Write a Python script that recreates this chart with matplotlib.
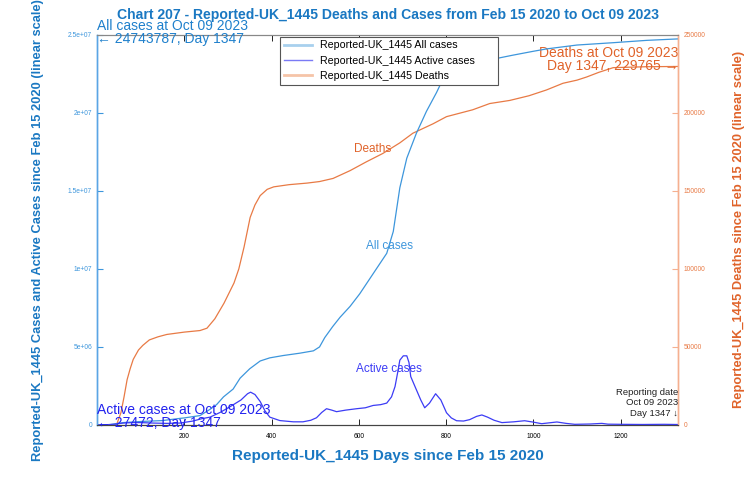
import numpy as np
import matplotlib
matplotlib.use("Agg")
import matplotlib.pyplot as plt
from matplotlib.lines import Line2D

plt.rcParams['font.family'] = ['Liberation Sans', 'DejaVu Sans']

# values
case_days = [0, 30, 60, 100, 150, 190, 200, 236, 259, 274, 290, 312, 328, 350, 374, 396,
             427, 465, 496, 510, 522, 540, 557, 580, 602, 633, 664, 679, 694, 710, 732,
             755, 778, 790, 830, 860, 900, 953, 1000, 1030, 1100, 1183, 1260, 1332]
cases = [0, 0.02, 0.15, 0.22, 0.28, 0.42, 0.45, 0.6, 1.0, 1.3, 1.8, 2.3, 3.0, 3.6, 4.1, 4.3,
         4.45, 4.6, 4.75, 5.0, 5.6, 6.3, 6.9, 7.6, 8.4, 9.7, 11.0, 12.4, 15.2, 17.1, 18.7,
         20.1, 21.3, 22.0, 22.7, 23.1, 23.4, 23.7, 23.95, 24.1, 24.35, 24.5, 24.65,
         24.743787]

active_days = [0, 20, 40, 60, 80, 100, 130, 160, 190, 220, 240, 259, 282, 305, 330, 345,
               352, 362, 374, 385, 396, 419, 450, 472, 490, 503, 515, 526, 538, 549, 570,
               595, 615, 633, 650, 664, 675, 683, 690, 694, 702, 710, 715, 719, 732, 742,
               751, 762, 776, 788, 801, 812, 824, 840, 854, 870, 882, 895, 910, 928, 955,
               980, 1000, 1019, 1054, 1075, 1095, 1130, 1157, 1171, 1200, 1250, 1300, 1332]
active = [0, 0.01, 0.05, 0.12, 0.15, 0.15, 0.12, 0.1, 0.12, 0.25, 0.4, 0.5, 0.8, 1.17, 1.6,
          2.0, 2.1, 1.95, 1.5, 0.9, 0.5, 0.28, 0.2, 0.2, 0.3, 0.46, 0.8, 1.04, 0.95, 0.85,
          0.95, 1.04, 1.1, 1.25, 1.3, 1.4, 1.8, 2.46, 3.5, 4.15, 4.43, 4.43, 4.0, 3.1, 2.25,
          1.6, 1.1, 1.4, 2.0, 1.6, 0.78, 0.45, 0.27, 0.25, 0.34, 0.55, 0.64, 0.5, 0.3, 0.15,
          0.2, 0.27, 0.18, 0.08, 0.19, 0.1, 0.04, 0.06, 0.1, 0.05, 0.04, 0.03, 0.04, 0.027472]

death_days = [0, 30, 40, 46, 55, 62, 69, 76, 83, 95, 105, 120, 140, 160, 200, 236, 252,
              270, 291, 314, 325, 337, 351, 362, 374, 390, 405, 440, 481, 510, 541, 580,
              617, 655, 694, 724, 770, 801, 861, 900, 946, 990, 1030, 1068, 1100,
              1122, 1150, 1183, 1259, 1332]
deaths = [0, 0, 0.1, 1, 8, 18, 29, 36, 42, 48, 51, 54.5, 56.5, 58, 59.5, 60.5, 62, 68, 78,
          91, 100, 114, 133, 141, 147, 151, 152.6, 154, 155, 156, 158, 163, 168.6, 174,
          180.8, 187, 193, 197.6, 202, 206, 208, 211, 214.7, 219, 221, 223, 226,
          229, 229.6, 229.765]

xticks = [200, 400, 600, 800, 1000, 1200]
left_ticks = [0, 5e6, 1e7, 1.5e7, 2e7, 2.5e7]
left_labels = ['0', '5e+06', '1e+07', '1.5e+07', '2e+07', '2.5e+07']
right_ticks = [0, 50000, 100000, 150000, 200000, 250000]

c_cases = '#3d96dc'
c_active = '#3c3cf5'
c_deaths = '#e87a45'
c_title = '#1a78c2'
c_dtext = '#e0632a'

fig = plt.figure(figsize=(7.49, 4.78), dpi=100)
ax = fig.add_axes([0.1295, 0.111, 0.776, 0.816])
ax2 = ax.twinx()

ax.plot(case_days, np.array(cases) * 1e6, color=c_cases, lw=0.9)
ax.plot(active_days, np.array(active) * 1e6, color=c_active, lw=0.9)
ax2.plot(death_days, np.array(deaths) * 1000, color=c_deaths, lw=0.9)

ax.set_xlim(0, 1332)
ax.set_ylim(0, 2.5e7)
ax2.set_ylim(0, 250000)

ax.set_xticks(xticks)
ax.set_xticklabels([str(t) for t in xticks], fontsize=4.8)
ax.set_yticks(left_ticks)
ax.set_yticklabels(left_labels, fontsize=4.8, color=c_cases)
ax2.set_yticks(right_ticks)
ax2.set_yticklabels([str(t) for t in right_ticks], fontsize=4.8, color=c_deaths)

ax.tick_params(axis='x', direction='in', top=True, length=4, width=0.6, pad=6)
ax.tick_params(axis='y', direction='in', length=4, width=0.8, color=c_cases, pad=3.5)
ax2.tick_params(axis='y', direction='in', length=4, width=0.8, color='#f5b090', pad=4)

for a in (ax, ax2):
    a.spines['top'].set_color('#888888')
    a.spines['bottom'].set_color('#444444')
    a.spines['left'].set_color('#5aa5e5')
    a.spines['right'].set_color('#f5b090')
    a.spines['left'].set_linewidth(1.0)
    a.spines['right'].set_linewidth(1.0)

fig.text(0.518, 0.968, 'Chart 207 - Reported-UK_1445 Deaths and Cases from Feb 15 2020 to Oct 09 2023',
         ha='center', va='center', fontsize=10.1, fontweight='bold', color=c_title)
ax.set_xlabel('Reported-UK_1445 Days since Feb 15 2020', fontsize=11, fontweight='bold',
              color=c_title, labelpad=6)
ax.set_ylabel('Reported-UK_1445 Cases and Active Cases since Feb 15 2020 (linear scale)',
              fontsize=9.3, fontweight='bold', color=c_title)
ax.yaxis.set_label_coords(-0.091, 0.50)
ax2.set_ylabel('Reported-UK_1445 Deaths since Feb 15 2020 (linear scale)',
               fontsize=9.3, fontweight='bold', color=c_dtext, rotation=90)
ax2.yaxis.set_label_coords(1.095, 0.5)

# curve labels
ax2.text(632, 177000, 'Deaths', color=c_dtext, fontsize=8.5, ha='center', va='center')
ax.text(670, 1.15e7, 'All cases', color=c_cases, fontsize=8.5, ha='center', va='center')
ax.text(668, 3.58e6, 'Active cases', color=c_active, fontsize=8.5, ha='center', va='center')

# end-of-series annotations
ax.text(0, 2.515e7, 'All cases at Oct 09 2023\n\u2190 24743787, Day 1347', color='#1f80cc',
        fontsize=10, ha='left', va='center', linespacing=0.95)
ax2.text(1332, 229765 + 4300, 'Deaths at Oct 09 2023\nDay 1347, 229765 \u2192', color=c_dtext,
         fontsize=10, ha='right', va='center', linespacing=0.95)
ax.text(0, 0.55e6, 'Active cases at Oct 09 2023\n\u2190 27472, Day 1347', color='#2222ee',
        fontsize=10, ha='left', va='center', linespacing=0.95)
ax.text(1332, 1.42e6, 'Reporting date\nOct 09 2023\nDay 1347 \u2193', color='#222222',
        fontsize=6.8, ha='right', va='center', linespacing=1.2)

handles = [Line2D([], [], color='#a8d0ee', lw=2),
           Line2D([], [], color='#7a7af5', lw=1),
           Line2D([], [], color='#f5c4a8', lw=2)]
leg = ax.legend(handles, ['Reported-UK_1445 All cases', 'Reported-UK_1445 Active cases',
                          'Reported-UK_1445 Deaths'],
                loc='upper left', bbox_to_anchor=(0.315, 0.0, 0.375, 0.9956), mode='expand',
                fontsize=7.7, fancybox=False, framealpha=1, edgecolor='#555555',
                handlelength=2.6, borderpad=0.35, labelspacing=0.5, borderaxespad=0)
leg.get_frame().set_linewidth(0.8)
ax2.set_zorder(ax.get_zorder() - 1)
ax.patch.set_visible(False)

fig.savefig('out.png', dpi=100)
